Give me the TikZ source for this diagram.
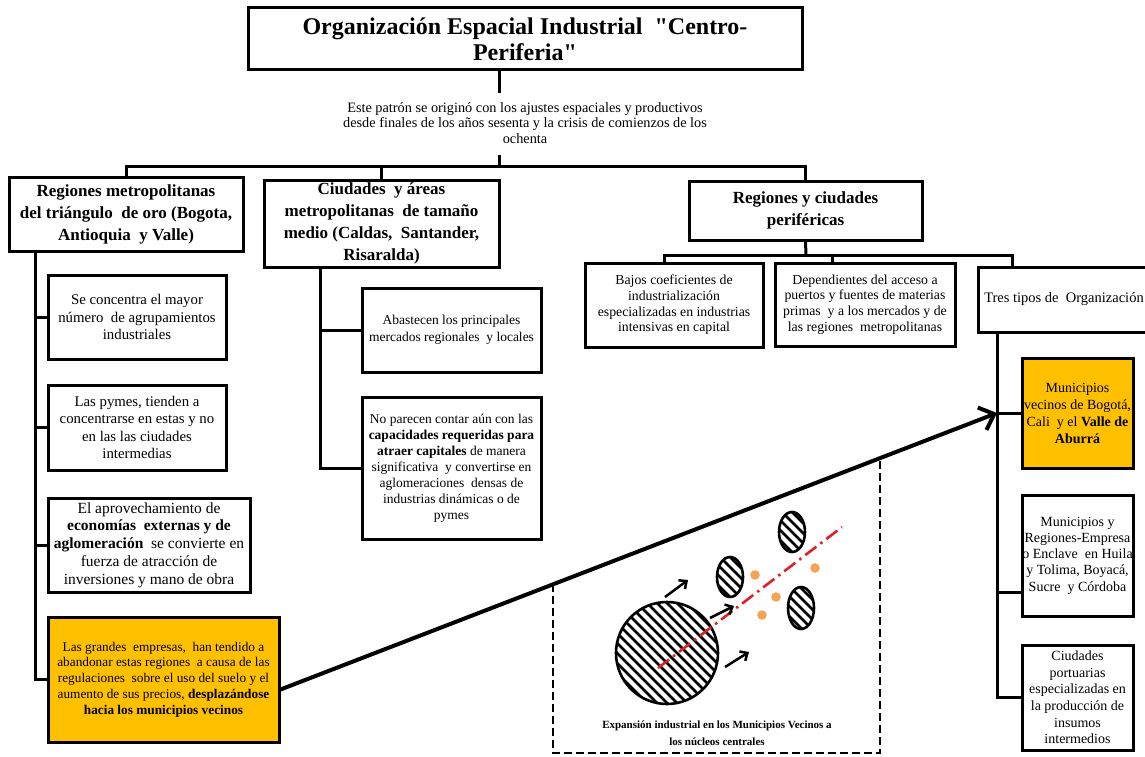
\documentclass[tikz,border=0pt]{standalone}
\usepackage{fontspec}
\setmainfont{Liberation Serif}[Ligatures=TeXOff]
\usetikzlibrary{arrows.meta,calc}
\definecolor{gold}{RGB}{255,192,0}
\definecolor{dotorange}{RGB}{244,164,86}
\definecolor{axisred}{RGB}{222,32,40}
\newcommand{\setfs}[2]{\fontsize{#1}{#2}\selectfont}
% hatched blob: centre x, centre y, x radius, y radius (pt)
\newcommand{\hatchblob}[4]{%
  \begin{scope}
    \clip (#1,#2) ellipse [x radius=#3pt, y radius=#4pt];
    \foreach \k in {-14,...,14}
      \draw[line width=2.8pt] ({#1+\k*10-75},{#2-75}) -- ++(150,150);
  \end{scope}
  \draw[line width=2.6pt] (#1,#2) ellipse [x radius=#3pt, y radius=#4pt];}
\begin{document}
\begin{tikzpicture}[x=1pt,y=-1pt,
  box/.style={draw, line width=3pt, inner sep=0pt, align=center, fill=white},
  goldbox/.style={box, fill=gold},
  head/.style={font=\bfseries\setfs{17}{22}},
  link/.style={line width=3pt},
  bigarrow/.style={line width=4pt, -{Straight Barb[length=13pt,width=24pt,line width=4pt]}},
  smallarrow/.style={line width=2.5pt, -{Straight Barb[length=6pt,width=11pt,line width=2.5pt]}},
  frame/.style={line width=2.5pt, dash pattern=on 8pt off 4pt},
  axis/.style={axisred, line width=2.6pt, dash pattern=on 14pt off 5pt on 2.5pt off 5pt}]
\useasboundingbox (0,0) rectangle (1145,757);

% title and introduction
\node[box, minimum width=554pt, minimum height=62pt, font=\bfseries\setfs{24}{26}] (title) at (525,39)
  {Organización Espacial Industrial \ "Centro-\\Periferia"};
\node[align=center, inner sep=0pt, font=\setfs{14.3}{15.5}] (intro) at (525,123)
  {Este patrón se originó con los ajustes espaciales y productivos\\
   desde finales de los años sesenta y la crisis de comienzos de los\\
   ochenta};

% first level
\node[box, head, minimum width=234pt, minimum height=74pt] (box1) at (126,214)
  {Regiones metropolitanas\\del triángulo \ de oro (Bogota,\\Antioquia \ y Valle)};
\node[box, head, minimum width=235pt, minimum height=87pt] (box2) at (381.5,223.5)
  {Ciudades \ y áreas\\metropolitanas \ de tamaño\\medio (Caldas, \ Santander,\\Risaralda)};
\node[box, head, minimum width=233pt, minimum height=59pt] (box3) at (805.5,210.5)
  {Regiones y ciudades\\periféricas};

% metropolitan regions
\node[box, minimum width=178pt, minimum height=84pt, font=\setfs{14.8}{17.5}] (boxa) at (137,317)
  {Se concentra el mayor\\número \ de agrupamientos\\industriales};
\node[box, minimum width=178pt, minimum height=85pt, font=\setfs{14.8}{17.3}] (boxb) at (137,427.5)
  {Las pymes, tienden a\\concentrarse en estas y no\\en las las ciudades\\intermedias};
\node[box, minimum width=202pt, minimum height=94pt, font=\setfs{15.5}{17.8}] (boxc) at (149,545)
  {El aprovechamiento de\\\textbf{economías \ externas y de}\\\textbf{aglomeración} \ se convierte en\\fuerza de atracción de\\inversiones y mano de obra};
\node[goldbox, minimum width=231pt, minimum height=125pt, font=\setfs{13.3}{15.8}] (boxd) at (163.5,679.5)
  {Las grandes \ empresas, \ han tendido a\\abandonar estas regiones \ a causa de las\\regulaciones \ sobre el uso del suelo y el\\aumento de sus precios, \textbf{desplazándose}\\\textbf{hacia los municipios vecinos}};

% medium-size cities
\node[box, minimum width=179pt, minimum height=84pt, font=\setfs{13.5}{17}] (boxe) at (451.5,330)
  {Abastecen los principales\\mercados regionales \ y locales};
\node[box, minimum width=179pt, minimum height=142pt, font=\setfs{13.5}{16}] (boxf) at (451.5,468)
  {No parecen contar aún con las\\\textbf{capacidades requeridas para}\\\textbf{atraer capitales} de manera\\significativa \ y convertirse en\\aglomeraciones \ densas de\\industrias dinámicas o de\\pymes};

% peripheral regions
\node[box, minimum width=178pt, minimum height=84pt, font=\setfs{13.8}{15.7}] (box4) at (674,305)
  {Bajos coeficientes de\\industrialización\\especializadas en industrias\\intensivas en capital};
\node[box, minimum width=180pt, minimum height=83pt, font=\setfs{13.8}{15.7}] (box5) at (865,304.5)
  {Dependientes del acceso a\\puertos y fuentes de materias\\primas \ y a los mercados y de\\las regiones \ metropolitanas};
\node[box, minimum width=172pt, minimum height=65pt, font=\setfs{14.5}{17}] (box6) at (1064,299.5)
  {Tres tipos de \ Organización};

% three types of organisation
\node[goldbox, minimum width=111pt, minimum height=110pt, font=\setfs{14}{17}] (box7) at (1077.5,413)
  {Municipios\\vecinos de Bogotá,\\Cali \ y el \textbf{Valle de}\\\textbf{Aburrá}};
\node[box, minimum width=111pt, minimum height=121pt, font=\setfs{14}{16.3}] (box8) at (1077.5,555.5)
  {Municipios y\\Regiones-Empresa\\o Enclave \ en Huila\\y Tolima, Boyacá,\\Sucre \ y Córdoba};
\node[box, minimum width=111pt, minimum height=105pt, font=\setfs{14}{16.6}] (box9) at (1077.5,697.5)
  {Ciudades\\portuarias\\especializadas en\\la producción de\\insumos\\intermedios};

% connectors: top level
\coordinate (hub) at (499,166);
\draw[link] (title.south -| hub) -- ++(0,22);
\draw[link] (hub) -- ++(0,-11);
\draw[link] (box1.north) |- (hub) -| (box3.north);
\draw[link] (box2.north) -- (box2.north |- hub);

% connectors: metropolitan regions
\coordinate (lsp) at (35,251);
\draw[link] (lsp) |- (boxd.west);
\draw[link] (lsp |- boxa.west) -- (boxa.west);
\draw[link] (lsp |- boxb.west) -- (boxb.west);
\draw[link] (lsp |- boxc.west) -- (boxc.west);

% connectors: medium-size cities
\coordinate (msp) at (320,267);
\draw[link] (msp) |- (boxf.west);
\draw[link] (msp |- boxe.west) -- (boxe.west);

% connectors: peripheral regions
\coordinate (pbus) at (806,255);
\coordinate (p4) at (664,255);
\coordinate (p5) at (832,255);
\coordinate (p6) at (1012,255);
\draw[link] (box3.south) -- (pbus);
\draw[link] (box4.north -| p4) -- (p4) -- (p6) -- (box6.north -| p6);
\draw[link] (p5) -- (box5.north -| p5);

% connectors: three types
\coordinate (rsp) at (997,332);
\coordinate (r8) at (997,592);
\draw[link] (rsp) |- (box9.west);
\draw[link] (rsp |- box7.west) -- (box7.west);
\draw[link] (r8) -- (r8 -| box8.west);

% inset: industrial expansion towards neighbouring municipalities
\coordinate (fl) at (553,584);
\coordinate (fr) at (880,458);
\draw[frame] (fl) -- (553,753) -- (880,753) -- (fr);
\node[align=center, inner sep=0pt, font=\bfseries\setfs{11}{17}] (caption) at (717,733)
  {Expansión industrial en los Municipios Vecinos a\\los núcleos centrales};
\hatchblob{667}{653}{51}{51}
\hatchblob{730}{577}{13}{20}
\hatchblob{792}{532}{13}{20}
\hatchblob{801}{608}{13}{21}
\draw[axis] (658,668) -- (842,527);
\foreach \px/\py in {755/575, 776/597, 762/615, 815/568}
  \fill[dotorange] (\px,\py) circle [radius=4.8pt];
\draw[smallarrow] (665,597) -- (688,580);
\draw[smallarrow] (710,618) -- (734,606);
\draw[smallarrow] (725,667) -- (749,652);

% shift of large firms towards the neighbouring municipalities
\draw[bigarrow] ([yshift=-10pt]boxd.east) -- (rsp |- box7.west);
\end{tikzpicture}
\end{document}
